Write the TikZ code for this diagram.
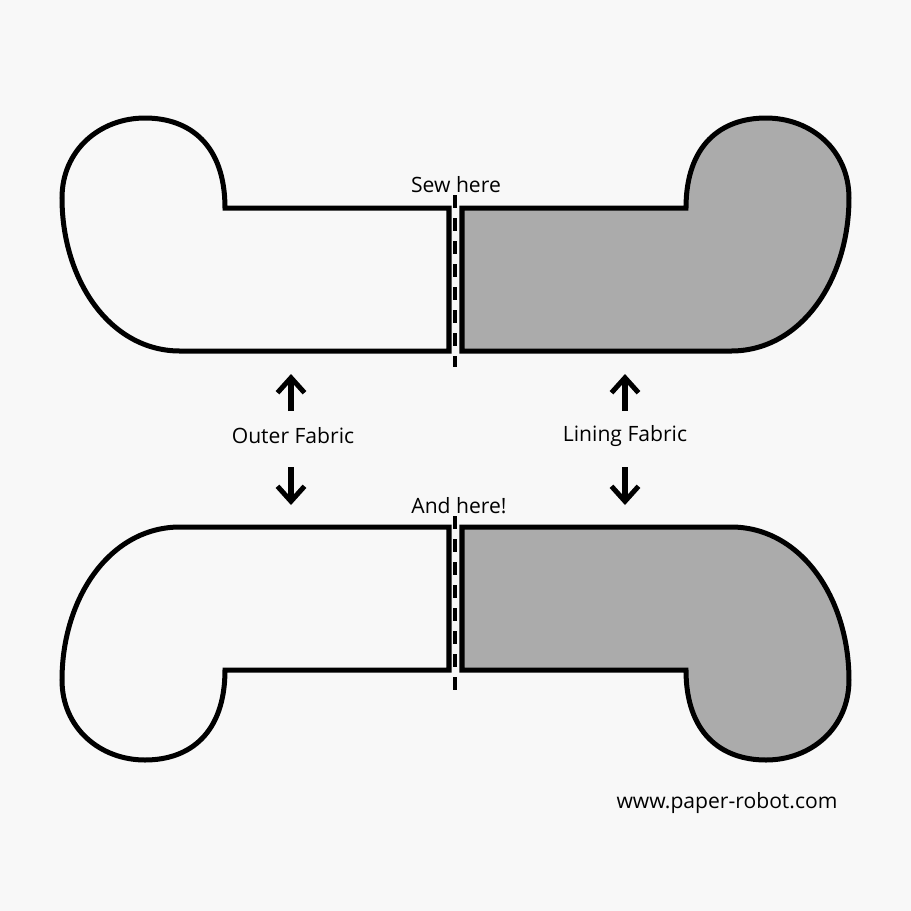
\documentclass[tikz,border=0pt]{standalone}
\usepackage{xcolor}
\usepackage{fontspec}
\setmainfont{Open Sans}
\usetikzlibrary{arrows.meta}
\definecolor{pagebg}{HTML}{F8F8F8}
\definecolor{lining}{HTML}{ABABAB}

\begin{document}
\begin{tikzpicture}[
  x=0.01cm, y=-0.01cm,
  outer/.style={draw=black, line width=0.05cm, fill=pagebg, line join=miter},
  inner/.style={outer, fill=lining},
  seam/.style={draw=black, line width=0.03cm, dash pattern=on 0.13cm off 0.1cm},
  arr/.style={-{Straight Barb[length=0.15cm,width=0.27cm,line width=0.05cm]}, line width=0.05cm},
  lbl/.style={font=\fontsize{6pt}{7pt}\selectfont, inner sep=0pt},
]
  \fill[pagebg] (0,0) rectangle (911,911);
  \useasboundingbox (0,0) rectangle (911,911);
  %% top pair
  \draw[outer] (449,351) -- (180,351) .. controls (110,351) and (62,280) .. (62,198)
    .. controls (62,150) and (100,118) .. (145,118)
    .. controls (190,118) and (225,145) .. (225,208) -- (449,208) -- cycle;
  \draw[inner] (462,351) -- (731,351) .. controls (801,351) and (849,280) .. (849,198)
    .. controls (849,150) and (811,118) .. (766,118)
    .. controls (721,118) and (686,145) .. (686,208) -- (462,208) -- cycle;
  %% bottom pair
  \draw[outer] (449,527) -- (180,527) .. controls (110,527) and (62,598) .. (62,680)
    .. controls (62,728) and (100,760) .. (145,760)
    .. controls (190,760) and (225,733) .. (225,670) -- (449,670) -- cycle;
  \draw[inner] (462,527) -- (731,527) .. controls (801,527) and (849,598) .. (849,680)
    .. controls (849,728) and (811,760) .. (766,760)
    .. controls (721,760) and (686,733) .. (686,670) -- (462,670) -- cycle;
  %% labels
  \node[lbl] (sew)    at (456,185) {Sew here};
  \node[lbl] (and)    at (459,506) {And here!};
  \node[lbl] (outerl) at (293,436) {Outer Fabric};
  \node[lbl] (liningl) at (625,436) {Lining Fabric};
  \node[lbl] (url)    at (727,803) {www.paper-robot.com};
  %% seams
  \coordinate (s1a) at (455,195);
  \coordinate (s1b) at (455,367);
  \coordinate (s2a) at (455,516);
  \coordinate (s2b) at (455,693);
  \draw[seam] (s1a) -- (s1b);
  \draw[seam] (s2a) -- (s2b);
  %% arrows
  \coordinate (a1) at (291,411);
  \coordinate (a2) at (291,374);
  \coordinate (a3) at (291,467);
  \coordinate (a4) at (291,505);
  \coordinate (b1) at (625,411);
  \coordinate (b2) at (625,374);
  \coordinate (b3) at (625,467);
  \coordinate (b4) at (625,505);
  \draw[arr] (a1) -- (a2);
  \draw[arr] (a3) -- (a4);
  \draw[arr] (b1) -- (b2);
  \draw[arr] (b3) -- (b4);
\end{tikzpicture}
\end{document}
